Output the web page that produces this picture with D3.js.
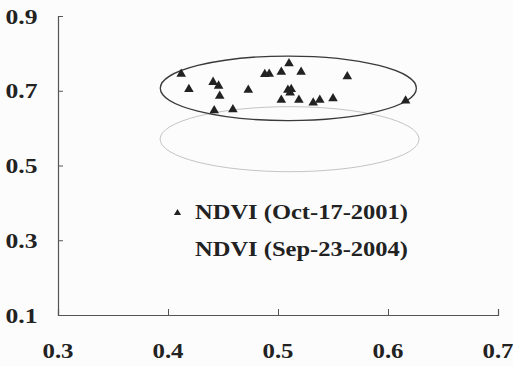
<!DOCTYPE html>
<html>
<head>
<meta charset="utf-8">
<script src="https://cdn.jsdelivr.net/npm/d3@7"></script>
<style>
  body { margin: 0; background: #fcfcfc; }
  text { font-family: "Liberation Serif", "Times New Roman", serif; font-weight: bold; fill: #222; }
</style>
</head>
<body>
<div id="chart"></div>
<script>
// NDVI points (Oct-17-2001)
let xVals = [0.412, 0.419, 0.441, 0.446, 0.447, 0.442, 0.459, 0.473, 0.488, 0.492, 0.503,
    0.510, 0.521, 0.509, 0.512, 0.511, 0.503, 0.519, 0.532, 0.538, 0.550, 0.563, 0.616];
let yVals = [0.745, 0.704, 0.723, 0.713, 0.686, 0.647, 0.650, 0.702, 0.744, 0.745, 0.750,
    0.773, 0.750, 0.702, 0.704, 0.695, 0.675, 0.675, 0.668, 0.675, 0.679, 0.738, 0.673];

// ellipses: [cx, cy, rx, ry] in data units
let ellipse2001 = [0.5094, 0.7065, 0.1164, 0.0864];
let ellipse2004 = [0.5105, 0.5704, 0.1177, 0.087];

let xTicks = [0.3, 0.4, 0.5, 0.6, 0.7];
let yTicks = [0.1, 0.3, 0.5, 0.7, 0.9];
let legendLabels = ["NDVI (Oct-17-2001)", "NDVI (Sep-23-2004)"];

let svgWidth = 513;
let svgHeight = 366;

let svg = d3.select("#chart")
    .append("svg")
    .attr("width", svgWidth)
    .attr("height", svgHeight);

let x = d3.scaleLinear().domain([0.3, 0.7]).range([58, 498]);
let y = d3.scaleLinear().domain([0.1, 0.9]).range([315, 16]);

// axes (ticks point inward)
let xAxis = svg.append("g")
    .attr("transform", `translate(0, ${y(0.1)})`)
    .call(d3.axisBottom(x).tickValues(xTicks).tickSize(-6).tickFormat(""));
let yAxis = svg.append("g")
    .attr("transform", `translate(${x(0.3)}, 0)`)
    .call(d3.axisLeft(y).tickValues(yTicks).tickSize(-5).tickFormat(""));

[xAxis, yAxis].forEach(a => {
    a.select(".domain").attr("stroke", "#555").attr("stroke-width", 1.2);
    a.selectAll(".tick line").attr("stroke", "#555");
});

// tick labels (the scan is a bit wider than the font, so stretch them)
svg.append("g").selectAll("text")
    .data(xTicks)
    .join("text")
    .attr("x", d => x(d))
    .attr("y", 358)
    .attr("text-anchor", "middle")
    .attr("font-size", 22)
    .attr("textLength", 31)
    .attr("lengthAdjust", "spacingAndGlyphs")
    .text(d => d3.format(".1f")(d));

svg.append("g").selectAll("text")
    .data(yTicks)
    .join("text")
    .attr("x", 21.5)
    .attr("y", d => y(d))
    .attr("dy", "0.35em")
    .attr("text-anchor", "middle")
    .attr("font-size", 22)
    .attr("textLength", 32)
    .attr("lengthAdjust", "spacingAndGlyphs")
    .text(d => d3.format(".1f")(d));

// ellipses
function drawEllipse(e, color, w) {
    svg.append("ellipse")
        .attr("cx", x(e[0]))
        .attr("cy", y(e[1]))
        .attr("rx", x(e[0] + e[2]) - x(e[0]))
        .attr("ry", y(e[1]) - y(e[1] + e[3]))
        .attr("fill", "none")
        .attr("stroke", color)
        .attr("stroke-width", w);
}
drawEllipse(ellipse2004, "#c4c4c4", 1);
drawEllipse(ellipse2001, "#3a3a3a", 1.3);

// points
let tri = d3.symbol().type(d3.symbolTriangle).size(40);
svg.append("g").selectAll("path")
    .data(xVals.map((d, i) => [d, yVals[i]]))
    .join("path")
    .attr("d", tri)
    .attr("transform", d => `translate(${x(d[0])}, ${y(d[1])})`)
    .attr("fill", "#222");

// legend
svg.append("path")
    .attr("d", d3.symbol().type(d3.symbolTriangle).size(22))
    .attr("transform", "translate(177.5, 213)")
    .attr("fill", "#222");

svg.append("g").selectAll("text")
    .data(legendLabels)
    .join("text")
    .attr("x", 195)
    .attr("y", (d, i) => 219 + i * 37)
    .attr("font-size", 22)
    .attr("textLength", 213)
    .attr("lengthAdjust", "spacingAndGlyphs")
    .text(d => d);
</script>
</body>
</html>
